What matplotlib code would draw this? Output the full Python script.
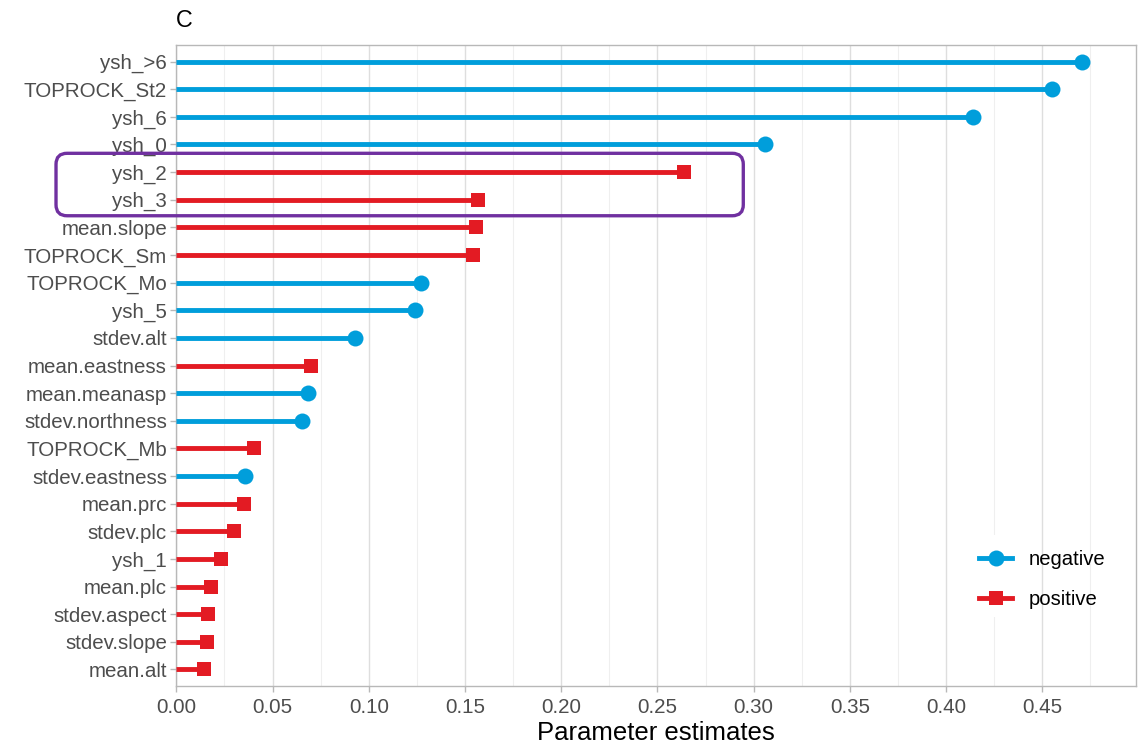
import matplotlib
matplotlib.use("Agg")
import matplotlib.pyplot as plt
from matplotlib.lines import Line2D
from matplotlib.patches import FancyBboxPatch, Rectangle
from matplotlib.ticker import MultipleLocator
import numpy as np

plt.rcParams['font.family'] = ['Liberation Sans', 'DejaVu Sans']

variables = ["ysh_>6", "TOPROCK_St2", "ysh_6", "ysh_0", "ysh_2", "ysh_3",
             "mean.slope", "TOPROCK_Sm", "TOPROCK_Mo", "ysh_5", "stdev.alt",
             "mean.eastness", "mean.meanasp", "stdev.northness", "TOPROCK_Mb",
             "stdev.eastness", "mean.prc", "stdev.plc", "ysh_1", "mean.plc",
             "stdev.aspect", "stdev.slope", "mean.alt"]
estimates = [0.4706, 0.4552, 0.4141, 0.306, 0.2639, 0.1568,
             0.1557, 0.154, 0.1269, 0.1241, 0.0931,
             0.0701, 0.0682, 0.0653, 0.0406,
             0.0358, 0.0353, 0.0298, 0.0231, 0.0179,
             0.0165, 0.0160, 0.0146]
direction = ["negative", "negative", "negative", "negative", "positive", "positive",
             "positive", "positive", "negative", "negative", "negative",
             "positive", "negative", "negative", "positive",
             "negative", "positive", "positive", "positive", "positive",
             "positive", "positive", "positive"]
x_ticks = [0.00, 0.05, 0.10, 0.15, 0.20, 0.25, 0.30, 0.35, 0.40, 0.45]

colors = {"negative": "#009EDB", "positive": "#E31B23"}
markers = {"negative": "o", "positive": "s"}
msizes = {"negative": 11.5, "positive": 9.6}

W, H = 1145, 745
fig = plt.figure(figsize=(W / 100, H / 100), dpi=100)
ax = fig.add_axes([176.3 / W, 1 - 686 / H, (1136.3 - 176.3) / W, (686 - 45) / H])

n = len(variables)
ypos = np.arange(n)[::-1]
lw = 3.5
for y, v, d in zip(ypos, estimates, direction):
    ax.plot([0, v], [y, y], color=colors[d], lw=lw, solid_capstyle='butt', zorder=3)
    ax.plot([v], [y], marker=markers[d], color=colors[d], markersize=msizes[d],
            markeredgewidth=0, linestyle='none', zorder=4)

ax.set_xlim(0, 0.4988)
ax.set_ylim(-0.6, n - 0.4)
ax.set_yticks(ypos)
ax.set_yticklabels(variables)
ax.set_xticks(x_ticks)
ax.set_xticklabels([f"{t:.2f}" for t in x_ticks])
ax.xaxis.set_minor_locator(MultipleLocator(0.025))

ax.grid(axis='x', which='major', color='#DEDEDE', lw=1.0, zorder=0)
ax.grid(axis='x', which='minor', color='#EFEFEF', lw=0.8, zorder=0)
ax.grid(axis='y', visible=False)
ax.set_axisbelow(True)

for s in ax.spines.values():
    s.set_color('#B8B8B8')
    s.set_linewidth(1.0)

ax.tick_params(axis='both', which='major', colors='#B8B8B8', length=4.2, width=1.0,
               labelcolor='#4D4D4D', labelsize=14.8)
ax.tick_params(axis='x', which='minor', length=0)
ax.tick_params(axis='y', pad=2.5)
ax.tick_params(axis='x', pad=4.5)

ax.set_xlabel("Parameter estimates", fontsize=18.5, color='black', labelpad=3)
ax.set_title("C", loc='left', fontsize=16.8, color='black', pad=13)

# highlight box (annotation), anchored to data, drawn in inches to keep round corners
x0_d, x1_d = -0.0625, 0.2946
y_top_d, y_bot_d = ypos[4] + 0.68, ypos[5] - 0.58
to_in = ax.transData + fig.dpi_scale_trans.inverted()
fig.canvas.draw()
(bx0, by0) = to_in.transform((x0_d, y_bot_d))
(bx1, by1) = to_in.transform((x1_d, y_top_d))
box = FancyBboxPatch((bx0, by0), bx1 - bx0, by1 - by0,
                     boxstyle="round,pad=0,rounding_size=0.11",
                     fill=False, edgecolor='#7030A0', lw=2.4,
                     transform=fig.dpi_scale_trans, clip_on=False, zorder=5)
fig.add_artist(box)

# white legend-key background (covers gridlines behind keys, as in ggplot)
ax.add_patch(Rectangle((977 / W, 1 - 617 / H), 37 / W, 82 / H, transform=fig.transFigure,
                       facecolor='white', edgecolor='none', zorder=1))

handles = [Line2D([0], [0], color=colors[k], lw=lw, marker=markers[k],
                  markersize=msizes[k], markeredgewidth=0) for k in ["negative", "positive"]]
leg = ax.legend(handles, ["negative", "positive"], loc='upper left',
                bbox_to_anchor=(979 / W, 1 - 550 / H), bbox_transform=fig.transFigure,
                frameon=False, fontsize=14.6, handlelength=1.63, handletextpad=0.84,
                labelspacing=1.02, borderpad=0, borderaxespad=0, numpoints=1)

fig.savefig("out.png", dpi=100)
